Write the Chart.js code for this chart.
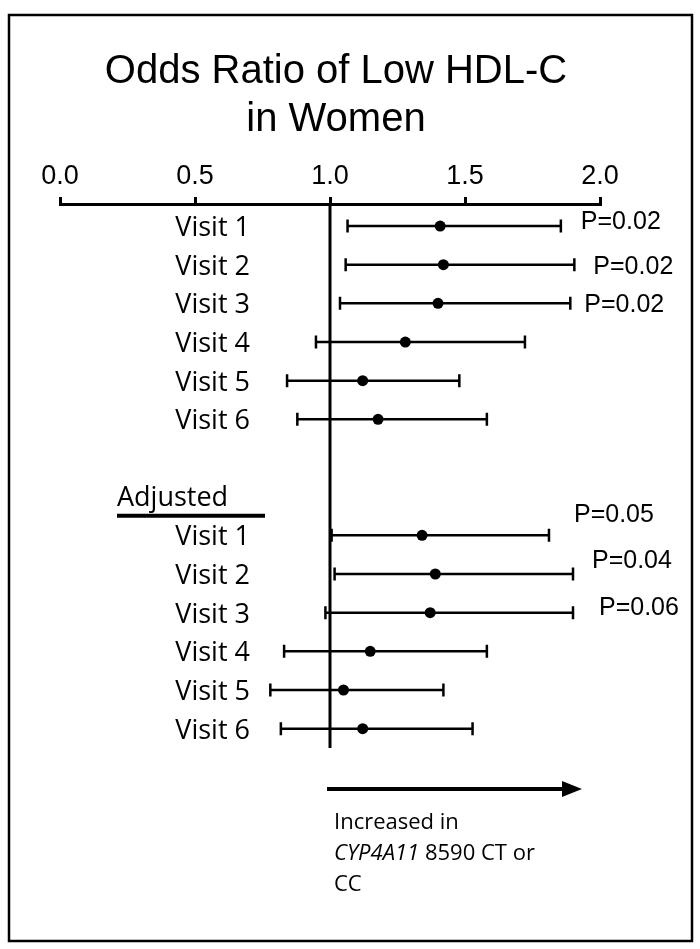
<!DOCTYPE html>
<html>
<head>
<meta charset="utf-8">
<script src="https://cdn.jsdelivr.net/npm/chart.js@4"></script>
<style>
  body { margin: 0; background: #fff; }
  #wrap { width: 700px; height: 949px; }
</style>
</head>
<body>
<div id="wrap"><canvas id="forestChart" width="700" height="949"></canvas></div>
<script>
// values
const visitLabels = ['Visit 1', 'Visit 2', 'Visit 3', 'Visit 4', 'Visit 5', 'Visit 6'];
const crudeOR   = [1.408, 1.420, 1.400, 1.279, 1.121, 1.178];
const crudeLow  = [1.065, 1.058, 1.037, 0.948, 0.841, 0.879];
const crudeHigh = [1.855, 1.905, 1.890, 1.722, 1.479, 1.581];
const crudeP    = ['P=0.02', 'P=0.02', 'P=0.02', '', '', ''];
const adjOR     = [1.341, 1.390, 1.371, 1.149, 1.050, 1.121];
const adjLow    = [1.006, 1.017, 0.983, 0.830, 0.779, 0.818];
const adjHigh   = [1.811, 1.900, 1.900, 1.581, 1.420, 1.528];
const adjP      = ['P=0.05', 'P=0.04', 'P=0.06', '', '', ''];
const xTicks    = [0, 0.5, 1, 1.5, 2];

const crudeRows = [0, 1, 2, 3, 4, 5];
const adjRows = [8, 9, 10, 11, 12, 13];
const headerRow = 7;

// label offsets for the P values (px from the upper whisker, px from row centre)
const crudePOffset = [[20, 3], [19, 9], [14, 9]];
const adjPOffset = [[25, -13], [19, -6], [26, 2]];

const textFont = '"Open Sans", sans-serif';
const arialFont = '"Liberation Sans", Arial, sans-serif';

const points = crudeRows.map((r, i) => ({ x: crudeOR[i], y: r }))
    .concat(adjRows.map((r, i) => ({ x: adjOR[i], y: r })));

const forestPlugin = {
    id: 'forest',
    beforeDatasetsDraw(chart) {
        const ctx = chart.ctx;
        const xs = chart.scales.x, ys = chart.scales.y;
        ctx.save();
        ctx.strokeStyle = '#000';
        ctx.lineWidth = 2.5;
        const drawCI = (lo, hi, row) => {
            const y = ys.getPixelForValue(row);
            const x1 = xs.getPixelForValue(lo), x2 = xs.getPixelForValue(hi);
            ctx.beginPath();
            ctx.moveTo(x1, y); ctx.lineTo(x2, y);
            ctx.moveTo(x1, y - 6.5); ctx.lineTo(x1, y + 6.5);
            ctx.moveTo(x2, y - 6.5); ctx.lineTo(x2, y + 6.5);
            ctx.stroke();
        };
        crudeRows.forEach((r, i) => drawCI(crudeLow[i], crudeHigh[i], r));
        adjRows.forEach((r, i) => drawCI(adjLow[i], adjHigh[i], r));
        ctx.restore();
    },
    afterDraw(chart) {
        const ctx = chart.ctx;
        const xs = chart.scales.x, ys = chart.scales.y;
        ctx.save();
        ctx.fillStyle = '#000';
        ctx.strokeStyle = '#000';

        // frame
        ctx.lineWidth = 2.5;
        ctx.strokeRect(9, 15, 683, 926);

        // title
        ctx.font = '40px ' + arialFont;
        ctx.textAlign = 'center';
        ctx.textBaseline = 'alphabetic';
        ctx.fillText('Odds Ratio of Low HDL-C', 336, 83);
        ctx.fillText('in Women', 336, 131);

        // row labels
        ctx.font = '27px ' + textFont;
        ctx.textAlign = 'right';
        const labelRight = 250;
        crudeRows.forEach((r, i) => ctx.fillText(visitLabels[i], labelRight, ys.getPixelForValue(r) + 10));
        adjRows.forEach((r, i) => ctx.fillText(visitLabels[i], labelRight, ys.getPixelForValue(r) + 10));

        // Adjusted header
        ctx.textAlign = 'left';
        const hy = ys.getPixelForValue(headerRow);
        ctx.fillText('Adjusted', 117, hy + 9);
        ctx.lineWidth = 4;
        ctx.beginPath();
        ctx.moveTo(117, hy + 19); ctx.lineTo(265, hy + 19);
        ctx.stroke();

        // P values
        ctx.font = '25px ' + arialFont;
        crudeP.forEach((p, i) => {
            if (!p) return;
            const o = crudePOffset[i];
            ctx.fillText(p, xs.getPixelForValue(crudeHigh[i]) + o[0], ys.getPixelForValue(crudeRows[i]) + o[1]);
        });
        adjP.forEach((p, i) => {
            if (!p) return;
            const o = adjPOffset[i];
            ctx.fillText(p, xs.getPixelForValue(adjHigh[i]) + o[0], ys.getPixelForValue(adjRows[i]) + o[1]);
        });

        // arrow
        const ax1 = xs.getPixelForValue(1) - 3;
        const ax2 = 582;
        const ay = 789;
        ctx.lineWidth = 4;
        ctx.beginPath();
        ctx.moveTo(ax1, ay); ctx.lineTo(ax2 - 16, ay);
        ctx.stroke();
        ctx.beginPath();
        ctx.moveTo(ax2, ay); ctx.lineTo(ax2 - 20, ay - 8); ctx.lineTo(ax2 - 20, ay + 8);
        ctx.closePath();
        ctx.fill();

        // caption
        ctx.font = '22px ' + textFont;
        ctx.fillText('Increased in', 334, 829);
        ctx.font = 'italic 22px ' + textFont;
        ctx.fillText('CYP4A11', 334, 860);
        const w = ctx.measureText('CYP4A11').width;
        ctx.font = '22px ' + textFont;
        ctx.fillText(' 8590 CT or', 334 + w, 860);
        ctx.fillText('CC', 334, 891);

        ctx.restore();
    }
};

const ctx = document.getElementById('forestChart').getContext('2d');
new Chart(ctx, {
    data: {
        datasets: [{
            type: 'line',
            label: 'null',
            data: [{ x: 1, y: -0.57 }, { x: 1, y: 13.5 }],
            borderColor: '#000',
            borderWidth: 3,
            pointRadius: 0
        }, {
            type: 'scatter',
            label: 'Odds ratio',
            data: points,
            backgroundColor: '#000',
            borderWidth: 0,
            pointRadius: 5.5
        }]
    },
    options: {
        responsive: false,
        animation: false,
        layout: { padding: { left: 60, right: 100, top: 0, bottom: 201 } },
        plugins: { legend: { display: false }, tooltip: { enabled: false } },
        scales: {
            x: {
                type: 'linear',
                position: 'top',
                min: 0,
                max: 2,
                afterBuildTicks: (scale) => { scale.ticks = xTicks.map(v => ({ value: v })); },
                afterFit: (scale) => { scale.height = 204; },
                ticks: {
                    color: '#000',
                    font: { family: arialFont, size: 27 },
                    padding: 4,
                    maxRotation: 0,
                    autoSkip: false,
                    callback: (v) => Number(v).toFixed(1)
                },
                grid: { drawOnChartArea: false, drawTicks: true, tickLength: 7, color: '#000', lineWidth: 3 },
                border: { display: true, color: '#000', width: 3 }
            },
            y: {
                type: 'linear',
                reverse: true,
                min: -0.57,
                max: 13.5,
                display: false
            }
        }
    },
    plugins: [forestPlugin]
});
</script>
</body>
</html>
